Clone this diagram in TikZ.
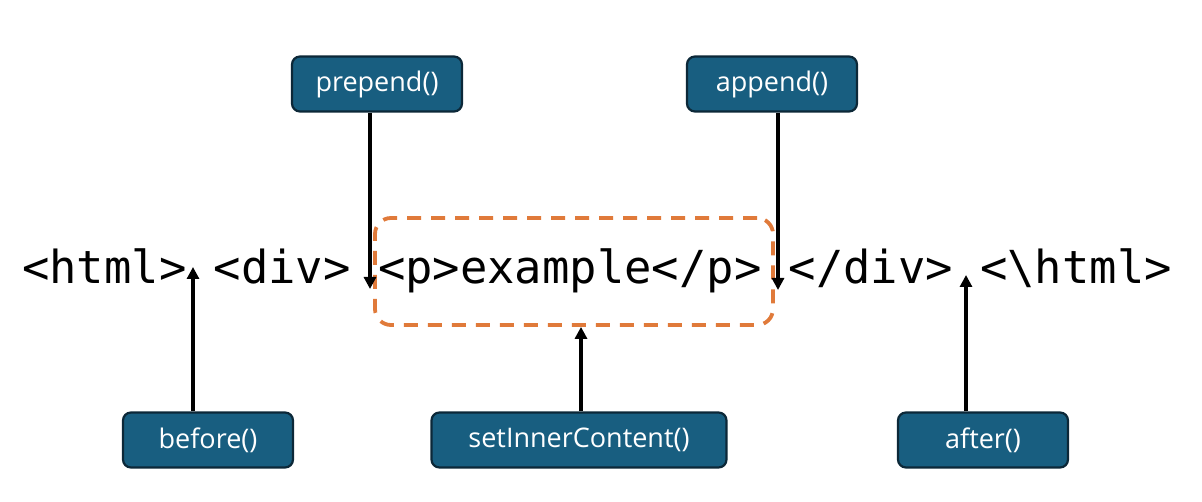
\documentclass[tikz,border=0pt]{standalone}
\usepackage{fontspec}
\setmonofont{DejaVu Sans Mono}
\setsansfont{Open Sans}
\usetikzlibrary{arrows.meta}
\definecolor{methodblue}{RGB}{24,94,128}
\definecolor{methodedge}{RGB}{12,40,56}
\definecolor{innerorange}{RGB}{224,122,58}

\begin{document}
\begin{tikzpicture}[x=1pt,y=-1pt,
  method/.style={draw=methodedge,line width=2.2pt,fill=methodblue,rounded corners=8pt,text=white,minimum height=55pt,minimum width=170pt,inner sep=0pt,font=\sffamily\fontsize{27}{30}\selectfont},
  tag/.style={anchor=base west,inner sep=0pt,font=\ttfamily\fontsize{45.5}{50}\selectfont},
  ins/.style={-{Triangle[length=12pt,width=12pt]},line width=3.6pt}]
\useasboundingbox (0,0) rectangle (1202,502);
% markup line
\node[tag] (html) at (22,284) {<html>};
\node[tag] (div) at (213.6,284) {<div>};
\node[tag] (p) at (377.8,284) {<p>example</p>};
\node[tag] (divend) at (788.4,284) {</div>};
\node[tag] (htmlend) at (980,284) {<\textbackslash html>};
\node[draw=innerorange,line width=3.8pt,dash pattern=on 14pt off 10pt,rounded corners=16pt,minimum width=398pt,minimum height=107pt] (inner) at (574,271.5) {};
% insertion points
\coordinate (beforept) at (193,267);
\coordinate (prependpt) at (370,289);
\coordinate (appendpt) at (778,290);
\coordinate (afterpt) at (966,275);
% methods
\node[method] (prepend) at (377,84) {prepend()};
\node[method] (append) at (772,84) {append()};
\node[method] (before) at (208,440) {before()};
\node[method,minimum width=295pt] (setinner) at (579,440) {setInnerContent()};
\node[method] (after) at (983,440) {after()};
\draw[ins] (prepend.south -| prependpt) -- (prependpt);
\draw[ins] (append.south -| appendpt) -- (appendpt);
\draw[ins] (before.north -| beforept) -- (beforept);
\draw[ins] (after.north -| afterpt) -- (afterpt);
\draw[ins] (setinner.north -| 581,0) -- (inner.south -| 581,0);
\end{tikzpicture}
\end{document}
